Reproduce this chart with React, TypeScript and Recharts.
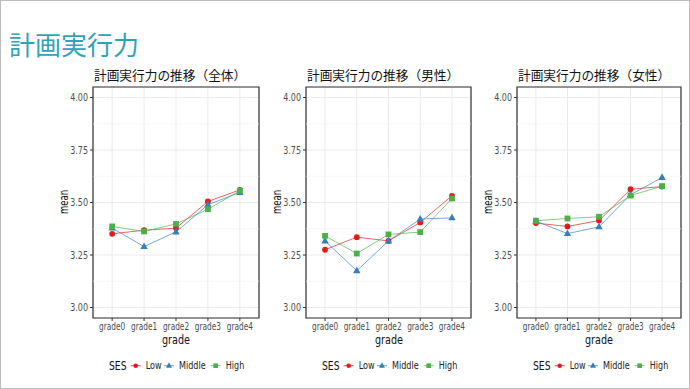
import { LineChart, Line, XAxis, YAxis, CartesianGrid, ReferenceLine, ReferenceArea } from "recharts";

const grades = ["grade0", "grade1", "grade2", "grade3", "grade4"];
const yTicks = [3, 3.25, 3.5, 3.75, 4];
const yMinor = [3.125, 3.375, 3.625, 3.875];
const sesLevels = ["Low", "Middle", "High"];
const sesColors = ["#e41a1c", "#377eb8", "#4daf4a"];

const titles = ["計画実行力の推移（全体）", "計画実行力の推移（男性）", "計画実行力の推移（女性）"];

// 全体
const allLow = [3.351, 3.368, 3.378, 3.505, 3.56];
const allMiddle = [3.378, 3.29, 3.36, 3.489, 3.548];
const allHigh = [3.386, 3.362, 3.398, 3.468, 3.556];
// 男性
const maleLow = [3.275, 3.335, 3.317, 3.405, 3.532];
const maleMiddle = [3.317, 3.175, 3.317, 3.421, 3.427];
const maleHigh = [3.341, 3.257, 3.348, 3.359, 3.519];
// 女性
const femaleLow = [3.402, 3.386, 3.414, 3.563, 3.576];
const femaleMiddle = [3.411, 3.352, 3.384, 3.537, 3.619];
const femaleHigh = [3.413, 3.424, 3.432, 3.533, 3.578];

const series = [
  [allLow, allMiddle, allHigh],
  [maleLow, maleMiddle, maleHigh],
  [femaleLow, femaleMiddle, femaleHigh],
];

const plotLefts = [93, 306, 517];
const plotWidths = [166, 165, 164];

const sans = "'DejaVu Sans', sans-serif";
const jp = "'Noto Sans CJK JP', sans-serif";
const squeeze = 0.74; // ggplot's condensed font look

function Marker({ kind, cx, cy, color, s = 1 }: { kind: number; cx: number; cy: number; color: string; s?: number }) {
  if (cx == null || cy == null) return null;
  if (kind === 0) return <circle cx={cx} cy={cy} r={2.9 * s} fill={color} />;
  if (kind === 1)
    return <path d={`M${cx},${cy - 4.2 * s} L${cx + 3.7 * s},${cy + 2.5 * s} L${cx - 3.7 * s},${cy + 2.5 * s} Z`} fill={color} />;
  return <rect x={cx - 2.9 * s} y={cy - 2.9 * s} width={5.8 * s} height={5.8 * s} fill={color} />;
}

function XTick(props: any) {
  const { x, y, payload } = props;
  return (
    <g transform={`translate(${x},${y})`}>
      <text transform={`scale(${squeeze},1)`} textAnchor="middle" dy="0.75em" fontSize={10} fill="#4d4d4d" fontFamily={sans}>
        {grades[payload.value]}
      </text>
    </g>
  );
}

function YTick(props: any) {
  const { x, y, payload } = props;
  return (
    <g transform={`translate(${x},${y})`}>
      <text transform="scale(0.8,1)" textAnchor="end" dy="0.36em" fontSize={10} fill="#4d4d4d" fontFamily={sans}>
        {Number(payload.value).toFixed(2)}
      </text>
    </g>
  );
}

// legend offsets (px from the legend's left edge)
const keyX = [26.7, 60, 106.7];
const labelX = [36.7, 70, 116.7];

function Legend({ left }: { left: number }) {
  const ls = 0.77;
  return (
    <svg style={{ position: "absolute", left, top: 356 }} width={150} height={20}>
      <text x={0} y={14} transform={`scale(${squeeze},1)`} fontSize={12.5} fill="#111" fontFamily={sans}>
        SES
      </text>
      {sesLevels.map((s, k) => (
        <g key={s}>
          <line x1={keyX[k] - 5} y1={9.7} x2={keyX[k] + 5} y2={9.7} stroke={sesColors[k]} strokeWidth={1} strokeOpacity={0.75} />
          <Marker kind={k} cx={keyX[k]} cy={9.7} color={sesColors[k]} s={0.8} />
          <text x={labelX[k] / ls} y={13.5} transform={`scale(${ls},1)`} fontSize={10.5} fill="#222" fontFamily={sans}>
            {s}
          </text>
        </g>
      ))}
    </svg>
  );
}

function Panel({ idx }: { idx: number }) {
  const [lo, mid, hi] = series[idx];
  const data = grades.map((g, i) => ({ x: i, grade: g, Low: lo[i], Middle: mid[i], High: hi[i] }));
  const plotLeft = plotLefts[idx];
  const plotWidth = plotWidths[idx];
  const yAxisW = 33;
  const left = plotLeft - yAxisW;
  const center = plotLeft + plotWidth / 2;

  return (
    <>
      <div style={{ position: "absolute", left: plotLeft + 1, top: 66, fontFamily: jp, fontSize: 12.7, color: "#111", whiteSpace: "nowrap", lineHeight: "18px" }}>
        {titles[idx]}
      </div>
      <div style={{ position: "absolute", left: left, top: 60 }}>
        <LineChart width={yAxisW + plotWidth + 2} height={281} data={data} margin={{ top: 27, right: 2, bottom: 3, left: 0 }}>
          <CartesianGrid stroke="#ebebeb" strokeWidth={1} />
          {yMinor.map((v) => (
            <ReferenceLine key={v} y={v} stroke="#f2f2f2" strokeWidth={0.6} />
          ))}
          <XAxis
            type="number"
            dataKey="x"
            domain={[-0.6, 4.6]}
            ticks={[0, 1, 2, 3, 4]}
            height={20}
            axisLine={false}
            tickSize={3}
            tickMargin={1}
            tickLine={{ stroke: "#333" }}
            tick={<XTick />}
            interval={0}
          />
          <YAxis
            type="number"
            domain={[2.95, 4.05]}
            ticks={yTicks}
            width={yAxisW}
            axisLine={false}
            tickSize={3}
            tickMargin={2}
            tickLine={{ stroke: "#333" }}
            tick={<YTick />}
            allowDataOverflow
          />
          {sesLevels.map((s, k) => (
            <Line
              key={s}
              dataKey={s}
              stroke={sesColors[k]}
              strokeWidth={0.9}
              strokeOpacity={0.75}
              isAnimationActive={false}
              activeDot={false}
              dot={(p: any) => <Marker key={`${s}-${p.index}`} kind={k} cx={p.cx} cy={p.cy} color={sesColors[k]} />}
            />
          ))}
          <ReferenceArea x1={-0.6} x2={4.6} y1={2.95} y2={4.05} fill="none" stroke="#333" strokeWidth={1.2} ifOverflow="visible" />
        </LineChart>
      </div>
      <div style={{ position: "absolute", left: plotLeft - 29 - 20, top: 195, width: 40, textAlign: "center", transform: `rotate(-90deg) scale(${squeeze},1)`, fontFamily: sans, fontSize: 11.5, color: "#111", lineHeight: "14px" }}>
        mean
      </div>
      <div style={{ position: "absolute", left: center - 30, top: 332, width: 60, textAlign: "center", transform: `scale(${squeeze},1)`, fontFamily: sans, fontSize: 13, color: "#111", lineHeight: "16px" }}>
        grade
      </div>
      <Legend left={plotLeft + 16.3} />
    </>
  );
}

export default function App() {
  return (
    <div style={{ position: "absolute", left: 0, top: 0, width: 690, height: 389, background: "#fff", overflow: "hidden" }}>
      <div style={{ position: "absolute", left: 0, top: 0, width: 690, height: 389, border: "1px solid #bdbdbd", boxSizing: "border-box" }} />
      <div style={{ position: "absolute", left: 9, top: 26, fontFamily: jp, fontSize: 26, color: "#31a2b6", lineHeight: "36px", whiteSpace: "nowrap" }}>
        計画実行力
      </div>
      {[0, 1, 2].map((i) => (
        <Panel key={i} idx={i} />
      ))}
    </div>
  );
}
